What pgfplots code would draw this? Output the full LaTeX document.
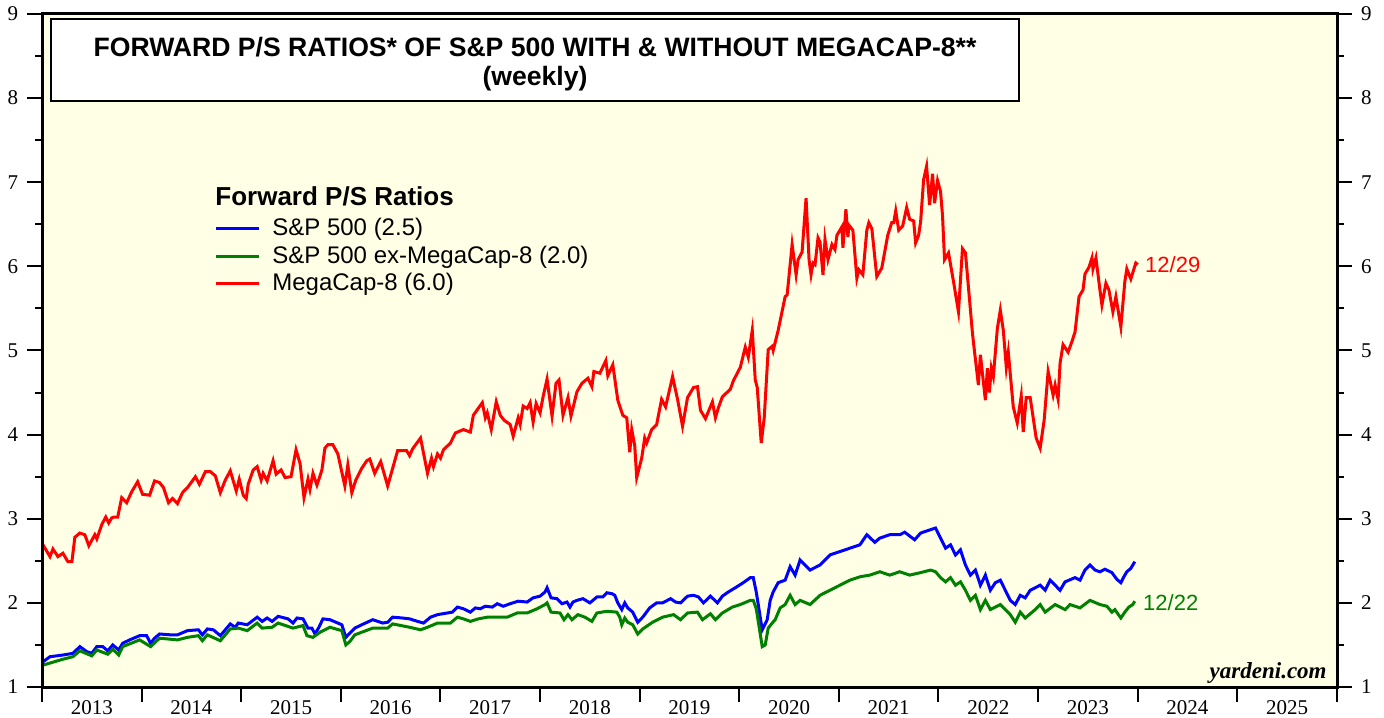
\documentclass[border=0pt]{standalone}
\usepackage{pgfplots}
\pgfplotsset{compat=1.18}
\usepackage{fontspec}
\setmainfont{Liberation Serif}
\newfontfamily\arial{Liberation Sans}
\definecolor{bg}{HTML}{FFFFE6}
\definecolor{sred}{RGB}{255,0,0}
\definecolor{sblue}{RGB}{0,0,255}
\definecolor{sgreen}{RGB}{0,128,0}

\pgfplotstableread{
x y
2013.00 2.71
2013.08 2.55
2013.11 2.64
2013.16 2.55
2013.21 2.59
2013.26 2.49
2013.30 2.49
2013.33 2.78
2013.38 2.83
2013.43 2.81
2013.47 2.68
2013.53 2.81
2013.55 2.76
2013.60 2.93
2013.64 3.02
2013.67 2.95
2013.70 3.01
2013.72 3.02
2013.76 3.02
2013.80 3.25
2013.85 3.19
2013.90 3.32
2013.96 3.44
2014.01 3.29
2014.08 3.28
2014.13 3.45
2014.18 3.43
2014.22 3.37
2014.27 3.19
2014.31 3.24
2014.36 3.18
2014.41 3.31
2014.46 3.37
2014.54 3.50
2014.58 3.41
2014.64 3.56
2014.69 3.56
2014.74 3.51
2014.79 3.31
2014.84 3.46
2014.89 3.57
2014.95 3.33
2014.98 3.47
2015.02 3.28
2015.05 3.24
2015.07 3.41
2015.12 3.58
2015.16 3.62
2015.20 3.46
2015.22 3.54
2015.26 3.45
2015.32 3.69
2015.35 3.53
2015.40 3.58
2015.44 3.49
2015.50 3.50
2015.55 3.82
2015.59 3.66
2015.63 3.25
2015.67 3.47
2015.69 3.35
2015.72 3.54
2015.76 3.40
2015.81 3.58
2015.84 3.84
2015.87 3.88
2015.92 3.88
2015.97 3.77
2016.04 3.39
2016.07 3.64
2016.11 3.31
2016.15 3.46
2016.21 3.60
2016.26 3.69
2016.29 3.71
2016.34 3.54
2016.40 3.68
2016.47 3.39
2016.57 3.81
2016.66 3.81
2016.69 3.75
2016.72 3.83
2016.80 3.96
2016.87 3.54
2016.91 3.72
2016.93 3.62
2016.97 3.77
2017.00 3.72
2017.03 3.82
2017.10 3.90
2017.15 4.02
2017.23 4.06
2017.30 4.03
2017.33 4.23
2017.42 4.38
2017.45 4.20
2017.47 4.26
2017.51 4.06
2017.56 4.39
2017.60 4.23
2017.64 4.17
2017.70 4.12
2017.73 3.98
2017.78 4.20
2017.80 4.12
2017.83 4.34
2017.87 4.31
2017.90 4.38
2017.93 4.15
2017.96 4.37
2018.00 4.26
2018.03 4.45
2018.07 4.66
2018.12 4.22
2018.16 4.61
2018.19 4.65
2018.23 4.23
2018.28 4.44
2018.31 4.22
2018.37 4.51
2018.42 4.61
2018.48 4.67
2018.52 4.57
2018.54 4.75
2018.60 4.73
2018.66 4.88
2018.68 4.70
2018.73 4.83
2018.78 4.41
2018.83 4.23
2018.87 4.20
2018.90 3.79
2018.92 4.06
2018.95 3.87
2018.97 3.49
2019.02 3.72
2019.05 3.96
2019.07 3.90
2019.12 4.06
2019.17 4.12
2019.22 4.42
2019.26 4.33
2019.33 4.69
2019.38 4.42
2019.43 4.10
2019.48 4.44
2019.54 4.56
2019.58 4.57
2019.61 4.29
2019.66 4.19
2019.73 4.39
2019.76 4.20
2019.79 4.32
2019.83 4.45
2019.91 4.54
2019.94 4.64
2020.01 4.80
2020.06 5.04
2020.09 4.92
2020.13 5.24
2020.16 4.65
2020.18 4.56
2020.22 3.90
2020.25 4.20
2020.29 5.01
2020.33 5.05
2020.34 5.00
2020.39 5.24
2020.46 5.64
2020.48 5.66
2020.53 6.26
2020.57 5.90
2020.59 6.08
2020.63 6.17
2020.67 6.81
2020.70 6.08
2020.72 5.90
2020.74 6.04
2020.76 6.02
2020.79 6.34
2020.81 6.29
2020.84 5.90
2020.86 6.32
2020.89 6.08
2020.93 6.26
2020.96 6.20
2020.98 6.37
2021.03 6.47
2021.04 6.22
2021.07 6.68
2021.09 6.35
2021.10 6.49
2021.14 6.43
2021.18 5.86
2021.20 5.96
2021.24 5.90
2021.28 6.43
2021.30 6.52
2021.33 6.45
2021.38 5.88
2021.43 5.98
2021.49 6.37
2021.53 6.52
2021.55 6.52
2021.57 6.66
2021.60 6.43
2021.64 6.48
2021.68 6.70
2021.71 6.56
2021.75 6.54
2021.77 6.28
2021.80 6.37
2021.82 6.53
2021.85 7.03
2021.88 7.19
2021.91 6.73
2021.94 7.10
2021.96 6.75
2021.99 7.02
2022.02 6.89
2022.04 6.60
2022.06 6.08
2022.10 6.16
2022.15 5.82
2022.20 5.46
2022.24 6.21
2022.27 6.16
2022.34 5.21
2022.35 5.10
2022.40 4.59
2022.42 4.95
2022.47 4.41
2022.49 4.79
2022.51 4.50
2022.53 4.79
2022.55 4.69
2022.59 5.26
2022.62 5.48
2022.65 5.24
2022.68 4.80
2022.70 4.98
2022.75 4.33
2022.79 4.14
2022.83 4.46
2022.85 4.03
2022.88 4.44
2022.92 4.44
2022.98 3.96
2023.02 3.84
2023.06 4.17
2023.10 4.75
2023.12 4.64
2023.15 4.47
2023.17 4.59
2023.20 4.42
2023.22 4.85
2023.25 5.07
2023.30 4.98
2023.34 5.11
2023.37 5.22
2023.41 5.64
2023.45 5.72
2023.47 5.91
2023.51 5.99
2023.54 6.10
2023.55 5.97
2023.58 6.10
2023.62 5.72
2023.64 5.54
2023.68 5.80
2023.71 5.72
2023.75 5.46
2023.78 5.64
2023.83 5.28
2023.87 5.82
2023.89 5.97
2023.93 5.85
2023.98 6.04
2024.00 6.02
}\redtab

\pgfplotstableread{
x y
2013.01 1.30
2013.08 1.36
2013.21 1.38
2013.31 1.40
2013.38 1.48
2013.45 1.42
2013.50 1.40
2013.55 1.48
2013.61 1.48
2013.66 1.43
2013.71 1.50
2013.77 1.44
2013.81 1.52
2013.88 1.56
2013.98 1.61
2014.05 1.61
2014.09 1.52
2014.13 1.58
2014.18 1.63
2014.29 1.62
2014.36 1.62
2014.46 1.67
2014.57 1.68
2014.61 1.62
2014.66 1.69
2014.72 1.68
2014.79 1.61
2014.89 1.75
2014.94 1.71
2014.97 1.76
2015.06 1.74
2015.16 1.83
2015.21 1.78
2015.26 1.82
2015.31 1.78
2015.37 1.84
2015.47 1.81
2015.52 1.76
2015.56 1.82
2015.62 1.81
2015.67 1.70
2015.71 1.70
2015.74 1.63
2015.78 1.71
2015.82 1.81
2015.89 1.80
2016.01 1.74
2016.05 1.59
2016.09 1.64
2016.14 1.70
2016.21 1.74
2016.32 1.80
2016.42 1.76
2016.47 1.77
2016.52 1.83
2016.62 1.82
2016.69 1.81
2016.77 1.78
2016.83 1.76
2016.90 1.83
2016.97 1.86
2017.07 1.88
2017.12 1.89
2017.17 1.95
2017.23 1.93
2017.30 1.89
2017.35 1.94
2017.40 1.93
2017.45 1.96
2017.52 1.95
2017.57 1.99
2017.63 1.96
2017.70 1.99
2017.78 2.02
2017.87 2.01
2017.93 2.06
2018.00 2.08
2018.05 2.13
2018.07 2.18
2018.11 2.06
2018.17 2.05
2018.22 1.99
2018.27 2.01
2018.30 1.95
2018.33 2.01
2018.37 2.03
2018.43 2.05
2018.50 2.00
2018.57 2.07
2018.63 2.07
2018.67 2.12
2018.72 2.11
2018.75 2.09
2018.78 2.00
2018.82 1.92
2018.85 2.00
2018.88 1.94
2018.93 1.89
2018.98 1.77
2019.03 1.83
2019.10 1.94
2019.17 2.00
2019.23 2.00
2019.31 2.05
2019.36 2.01
2019.41 2.00
2019.48 2.08
2019.54 2.09
2019.59 2.07
2019.64 2.00
2019.71 2.08
2019.78 2.00
2019.83 2.08
2019.89 2.13
2019.96 2.18
2020.04 2.24
2020.11 2.30
2020.14 2.30
2020.17 2.13
2020.23 1.68
2020.28 1.80
2020.31 2.03
2020.34 2.13
2020.39 2.24
2020.46 2.27
2020.51 2.43
2020.56 2.33
2020.61 2.51
2020.71 2.39
2020.81 2.45
2020.91 2.57
2021.01 2.61
2021.11 2.65
2021.21 2.69
2021.28 2.81
2021.36 2.72
2021.41 2.77
2021.51 2.81
2021.61 2.81
2021.66 2.84
2021.76 2.75
2021.82 2.83
2021.92 2.87
2021.97 2.89
2022.02 2.77
2022.07 2.65
2022.12 2.69
2022.17 2.57
2022.22 2.63
2022.27 2.45
2022.32 2.33
2022.37 2.39
2022.42 2.21
2022.47 2.33
2022.52 2.15
2022.57 2.24
2022.62 2.27
2022.67 2.15
2022.72 2.03
2022.77 1.98
2022.82 2.09
2022.87 2.06
2022.92 2.15
2023.02 2.21
2023.07 2.15
2023.12 2.27
2023.17 2.21
2023.22 2.15
2023.27 2.25
2023.37 2.30
2023.42 2.27
2023.47 2.39
2023.52 2.45
2023.57 2.39
2023.62 2.37
2023.67 2.40
2023.74 2.36
2023.79 2.28
2023.83 2.24
2023.86 2.31
2023.89 2.37
2023.93 2.41
2023.97 2.49
}\bluetab

\pgfplotstableread{
x y
2013.01 1.26
2013.21 1.33
2013.31 1.36
2013.38 1.43
2013.50 1.37
2013.55 1.44
2013.66 1.39
2013.71 1.45
2013.77 1.38
2013.81 1.48
2013.98 1.56
2014.09 1.48
2014.18 1.58
2014.36 1.56
2014.46 1.59
2014.57 1.61
2014.61 1.55
2014.66 1.62
2014.79 1.55
2014.89 1.69
2014.97 1.70
2015.06 1.67
2015.16 1.76
2015.21 1.70
2015.31 1.71
2015.37 1.76
2015.52 1.70
2015.62 1.73
2015.66 1.61
2015.72 1.59
2015.79 1.65
2015.89 1.71
2016.01 1.67
2016.05 1.50
2016.09 1.54
2016.14 1.62
2016.32 1.70
2016.47 1.70
2016.52 1.75
2016.69 1.71
2016.80 1.68
2016.87 1.71
2016.97 1.76
2017.10 1.76
2017.17 1.83
2017.23 1.81
2017.30 1.78
2017.38 1.81
2017.47 1.83
2017.57 1.83
2017.67 1.83
2017.77 1.88
2017.87 1.88
2017.97 1.93
2018.05 1.98
2018.07 2.00
2018.11 1.89
2018.20 1.88
2018.24 1.80
2018.28 1.86
2018.32 1.80
2018.38 1.86
2018.45 1.83
2018.52 1.78
2018.57 1.88
2018.67 1.90
2018.77 1.89
2018.80 1.83
2018.82 1.74
2018.85 1.82
2018.88 1.77
2018.93 1.74
2018.98 1.63
2019.03 1.69
2019.13 1.77
2019.23 1.83
2019.34 1.86
2019.41 1.80
2019.48 1.88
2019.58 1.89
2019.63 1.80
2019.71 1.87
2019.76 1.80
2019.83 1.88
2019.93 1.95
2020.01 1.98
2020.11 2.03
2020.14 2.03
2020.17 1.93
2020.23 1.48
2020.26 1.50
2020.29 1.70
2020.33 1.76
2020.36 1.80
2020.41 1.94
2020.46 1.98
2020.51 2.09
2020.56 1.98
2020.61 2.03
2020.71 1.98
2020.81 2.09
2020.91 2.15
2021.01 2.21
2021.11 2.27
2021.21 2.31
2021.31 2.33
2021.41 2.37
2021.51 2.33
2021.61 2.37
2021.71 2.33
2021.82 2.36
2021.92 2.39
2021.97 2.37
2022.02 2.30
2022.07 2.25
2022.12 2.30
2022.17 2.21
2022.22 2.25
2022.27 2.15
2022.32 2.03
2022.37 2.09
2022.42 1.92
2022.47 2.03
2022.52 1.92
2022.62 1.98
2022.72 1.86
2022.77 1.77
2022.82 1.89
2022.87 1.82
2022.97 1.92
2023.02 1.98
2023.07 1.89
2023.17 1.98
2023.27 1.92
2023.32 1.98
2023.42 1.94
2023.52 2.03
2023.62 1.98
2023.69 1.96
2023.74 1.89
2023.77 1.92
2023.83 1.82
2023.87 1.89
2023.91 1.95
2023.95 1.98
2023.97 2.02
}\greentab

\begin{document}
\begin{tikzpicture}
\pgfplotsset{
  base/.style={
    scale only axis, width=647.5pt, height=336.5pt,
    xmin=2013, xmax=2026, ymin=1, ymax=9,
    ytick={1,...,9}, minor y tick num=1,
    tick align=outside,
    major tick length=7.5pt, minor tick length=3.5pt,
    tick style={line width=1pt, black},
    axis line style={line width=1.5pt},
    /pgf/number format/assume math mode=true,
    ticklabel style={font=\fontsize{10.5}{12}\selectfont},
  }
}
\begin{axis}[base, name=main,
    axis background/.style={fill=bg},
    xtick={2013,...,2026}, xtick pos=bottom,
    x tick label as interval,
    xticklabel style={/pgf/number format/1000 sep={}, yshift=4.5pt},
    ytick pos=left,
    yticklabel style={xshift=-1pt},
    legend style={at={(rel axis cs:0.1328,0.703)}, anchor=north west, draw=none, fill=none,
      font=\arial\fontsize{12}{14}\selectfont, row sep=-0.4pt, inner sep=0pt,
      legend cell align=left,
      /tikz/every odd column/.append style={column sep=4pt}},
    legend image code/.code={\draw[#1] (0pt,0pt) -- (21.5pt,0pt);},
  ]
  \addplot[sblue, line width=1.5pt] table {\bluetab};
  \addlegendentry{S\&P 500 (2.5)}
  \addplot[sgreen, line width=1.5pt] table {\greentab};
  \addlegendentry{S\&P 500 ex-MegaCap-8 (2.0)}
  \addplot[sred, line width=1.5pt] table {\redtab};
  \addlegendentry{MegaCap-8 (6.0)}

  \node[anchor=base west, font=\arial\bfseries\fontsize{13}{15}\selectfont, inner sep=0pt]
    at (rel axis cs:0.1336,0.716) {Forward P/S Ratios};

  \node[draw=black, fill=white, line width=1pt, anchor=north west, inner sep=0pt,
        minimum width=484pt, minimum height=41pt] (tbox)
    at ([xshift=4pt,yshift=-2pt]rel axis cs:0,1) {};
  \node[align=center, inner sep=0pt, font=\arial\bfseries\fontsize{13.3}{14.5}\selectfont]
    at ([yshift=-2pt]tbox.center)
    {FORWARD P/S RATIOS* OF S\&P 500 WITH \& WITHOUT MEGACAP-8**\\(weekly)};

  \node[anchor=west, text=sred, font=\arial\fontsize{11}{13}\selectfont, inner sep=0pt]
    at ([xshift=3.5pt]axis cs:2024.00,6.02) {12/29};
  \node[anchor=west, text=sgreen, font=\arial\fontsize{11}{13}\selectfont, inner sep=0pt]
    at ([xshift=4pt]axis cs:2023.97,2.00) {12/22};

  \node[anchor=base east, font=\bfseries\itshape\fontsize{11.5}{13}\selectfont, inner sep=0pt]
    at ([xshift=-5pt,yshift=4.5pt]rel axis cs:1,0) {yardeni.com};
\end{axis}
\begin{axis}[base,
    hide x axis,
    ytick pos=right, yticklabel pos=right,
    yticklabel style={xshift=1pt},
  ]
\end{axis}
\pgfresetboundingbox
\path ([xshift=-21pt,yshift=-15pt]main.south west) rectangle ([xshift=23.5pt,yshift=7pt]main.north east);
\end{tikzpicture}
\end{document}
